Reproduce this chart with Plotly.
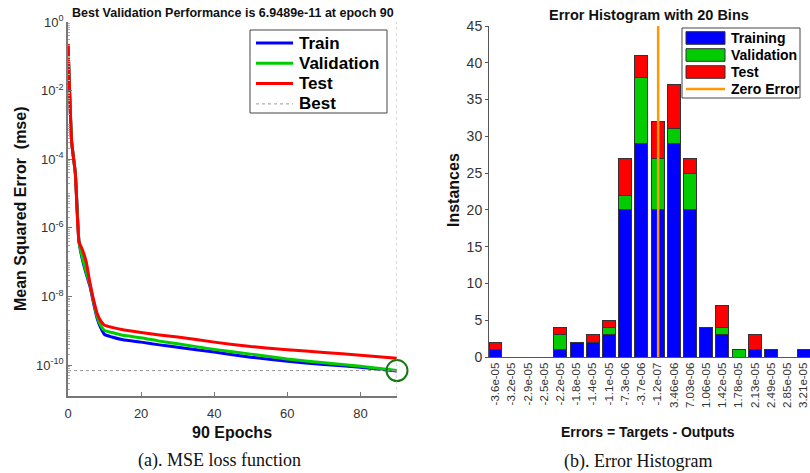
import numpy as np
import plotly.graph_objects as go

# ---- (a) training performance, sampled epochs ----
epochs = [0, 1, 2, 3, 4, 5, 6, 7, 8, 9, 10, 12, 15, 20, 25, 30, 40, 50, 60, 70, 80, 90]
mse_train = [0.229, 3.16e-4, 3.98e-5, 3.98e-7, 1.12e-7, 4.47e-8, 2.0e-8, 6.31e-9, 2.24e-9,
             1.2e-9, 7.8e-10, 6.6e-10, 5.5e-10, 4.68e-10, 3.89e-10, 3.31e-10, 2.4e-10,
             1.7e-10, 1.29e-10, 1.05e-10, 8.71e-11, 6.76e-11]
mse_val = [0.229, 3.16e-4, 3.98e-5, 3.98e-7, 1.26e-7, 5.01e-8, 2.24e-8, 7.08e-9, 2.51e-9,
           1.41e-9, 1.02e-9, 8.91e-10, 7.41e-10, 6.31e-10, 5.01e-10, 4.17e-10, 2.88e-10,
           2.09e-10, 1.51e-10, 1.17e-10, 9.33e-11, 6.9489e-11]
mse_test = [0.229, 3.16e-4, 3.98e-5, 3.98e-7, 2.24e-7, 1.0e-7, 2.51e-8, 7.94e-9, 3.16e-9,
            1.91e-9, 1.45e-9, 1.26e-9, 1.07e-9, 8.91e-10, 7.59e-10, 6.61e-10, 4.68e-10,
            3.47e-10, 2.82e-10, 2.34e-10, 1.95e-10, 1.58e-10]
best_epoch = 90
best_perf = 6.9489e-11
mse_tickvals = [1, 1e-2, 1e-4, 1e-6, 1e-8, 1e-10]
mse_ticktext = ["10<sup>0</sup>", "10<sup>-2</sup>", "10<sup>-4</sup>", "10<sup>-6</sup>",
                "10<sup>-8</sup>", "10<sup>-10</sup>"]

# ---- (b) error histogram ----
bin_labels = ["-3.6e-05", "-3.2e-05", "-2.9e-05", "-2.5e-05", "-2.2e-05", "-1.8e-05",
              "-1.4e-05", "-1.1e-05", "-7.3e-06", "-3.7e-06", "-1.2e-07", "3.46e-06",
              "7.03e-06", "1.06e-05", "1.42e-05", "1.78e-05", "2.13e-05", "2.49e-05",
              "2.85e-05", "3.21e-05"]
hist_train = [1, 0, 0, 0, 1, 2, 2, 3, 20, 29, 20, 29, 20, 4, 3, 0, 1, 1, 0, 1]
hist_val = [0, 0, 0, 0, 2, 0, 0, 1, 2, 9, 7, 2, 5, 0, 1, 1, 0, 0, 0, 0]
hist_test = [1, 0, 0, 0, 1, 0, 1, 1, 5, 3, 5, 6, 2, 0, 3, 0, 2, 0, 0, 0]

BLUE, GREEN, RED, ORANGE = "#0000FF", "#00CC00", "#FF0000", "#FF9900"
BEST_GRAY = "#999999"
SANS = "Liberation Sans, Arial, sans-serif"
SERIF = "Liberation Serif, Times New Roman, serif"
TICK = "#333333"
INK = "#111111"

W, H = 810, 473
def px(x):
    return x / W
def py(y):
    return 1 - y / H

fig = go.Figure()

# performance curves
perf_series = [("Train", mse_train, BLUE), ("Validation", mse_val, GREEN),
               ("Test", mse_test, RED)]
for name, vals, col in perf_series:
    fig.add_trace(go.Scatter(x=epochs, y=vals, mode="lines", name=name, showlegend=False,
                             line=dict(color=col, width=3, shape="spline", smoothing=0.4),
                             xaxis="x", yaxis="y"))
fig.add_trace(go.Scatter(x=[0, best_epoch], y=[best_perf, best_perf], mode="lines",
                         name="Best", showlegend=False,
                         line=dict(color=BEST_GRAY, width=1, dash="dot"),
                         xaxis="x", yaxis="y"))
fig.add_trace(go.Scatter(x=[best_epoch], y=[best_perf], mode="markers", showlegend=False,
                         cliponaxis=False,
                         marker=dict(symbol="circle-open", size=21, color="#137a13",
                                     line=dict(color="#137a13", width=2)),
                         xaxis="x", yaxis="y"))
fig.add_shape(type="line", xref="x", yref="paper", x0=best_epoch, x1=best_epoch,
              y0=py(396), y1=py(22), line=dict(color="#b0b0b0", width=1, dash="dot"))

# stacked histogram
idx = list(range(len(bin_labels)))
hist_series = [("Training", hist_train, BLUE), ("Validation", hist_val, GREEN),
               ("Test", hist_test, RED)]
for name, vals, col in hist_series:
    fig.add_trace(go.Bar(x=idx, y=vals, name=name, width=0.8, showlegend=False,
                         marker=dict(color=col, line=dict(color="#333333", width=1)),
                         xaxis="x2", yaxis="y2"))

# zero-error position inside the bin index space
centers = [float(s) for s in bin_labels]
zero_pos = float(np.interp(0.0, centers, idx))
fig.add_trace(go.Scatter(x=[zero_pos, zero_pos], y=[0, 45], mode="lines", name="Zero Error",
                         showlegend=False, line=dict(color=ORANGE, width=2.5),
                         xaxis="x2", yaxis="y2"))

fig.update_layout(
    width=W, height=H, margin=dict(l=0, r=0, t=0, b=0),
    paper_bgcolor="white", plot_bgcolor="white",
    barmode="stack", showlegend=False,
    font=dict(family=SANS, color=TICK),
    xaxis=dict(domain=[px(68), px(397)], range=[0, 90], dtick=20, tick0=0,
               showgrid=False, zeroline=False, showline=True, linecolor="#777777",
               linewidth=1.5, ticks="inside", ticklen=4, tickcolor="#777777",
               ticklabelstandoff=5, automargin=False,
               tickfont=dict(size=13, color=TICK)),
    yaxis=dict(domain=[py(396), py(22)], type="log", range=[-10.9, 0],
               tickmode="array", tickvals=mse_tickvals, ticktext=mse_ticktext,
               showgrid=False, zeroline=False, showline=True, automargin=False,
               linecolor="#777777", linewidth=1.5, ticks="inside", ticklen=4,
               tickcolor="#777777", tickfont=dict(size=13, color=TICK),
               minor=dict(ticks="inside", ticklen=2, tickcolor="#aaaaaa", dtick="D1")),
    xaxis2=dict(domain=[px(489), 1.0], range=[-0.4, 19.4], tickmode="array",
                tickvals=idx, ticktext=bin_labels, tickangle=-90, anchor="y2",
                showgrid=False, zeroline=False, showline=True, linecolor="#555555",
                ticks="", automargin=False, ticklabelstandoff=0,
                tickfont=dict(size=11.5, color=TICK)),
    yaxis2=dict(domain=[py(357), py(26)], range=[0, 45], dtick=5, showgrid=False,
                zeroline=False, showline=True, linecolor="#555555", ticks="outside",
                ticklen=3, tickcolor="#555555", tickfont=dict(size=14, color=TICK),
                anchor="x2", automargin=False),
)

def text(t, x, y, size, angle=0, family=SANS, weight="bold", anchor="center", color=INK):
    fig.add_annotation(xref="paper", yref="paper", showarrow=False, text=t,
                       x=px(x), y=py(y), xanchor=anchor, yanchor="middle",
                       textangle=angle,
                       font=dict(size=size, color=color, family=family, weight=weight))

def box(x0, y0, x1, y1, fill=None, line="#444444", lw=1):
    fig.add_shape(type="rect", xref="paper", yref="paper", x0=px(x0), x1=px(x1),
                  y0=py(y1), y1=py(y0), fillcolor=fill or "rgba(0,0,0,0)",
                  line=dict(color=line, width=lw))

def hline(x0, x1, y, col, width, dash="solid"):
    fig.add_shape(type="line", xref="paper", yref="paper", x0=px(x0), x1=px(x1),
                  y0=py(y), y1=py(y), line=dict(color=col, width=width, dash=dash))

# legend of panel (a)
box(250, 30, 387, 113, fill="white")
legend_a = [(n, c, 3, "solid") for n, _, c in perf_series] + [("Best", BEST_GRAY, 1, "dot")]
for i, (name, col, lw, dash) in enumerate(legend_a):
    yy = 43 + i * 20.3
    hline(256, 293, yy, col, lw, dash)
    text(name, 297, yy, 17, anchor="left", color="black")

# legend of panel (b)
box(682, 28, 800, 98, fill="white")
for i, (name, _, col) in enumerate(hist_series):
    yy = 38 + i * 17
    box(686, yy - 6.3, 725, yy + 6.3, fill=col, line="#333333")
    text(name, 729, yy, 14, anchor="left", color="black")
hline(686, 725, 38 + 3 * 17, ORANGE, 2.5)
text("Zero Error", 729, 38 + 3 * 17, 14, anchor="left", color="black")

# titles and captions
text("Best Validation Performance is 6.9489e-11 at epoch 90", 233, 13, 12.5)
text("Mean Squared Error  (mse)", 20, 209, 16, angle=-90)
text("90 Epochs", 232, 432, 16)
text("(a). MSE loss function", 219, 460, 18, family=SERIF, weight="normal")
text("Error Histogram with 20 Bins", 649, 15, 14.5)
text("Instances", 453, 190, 16, angle=-90)
text("Errors = Targets - Outputs", 648, 432, 14)
text("(b). Error Histogram", 638, 461, 18, family=SERIF, weight="normal")

fig.write_html("out.html")
